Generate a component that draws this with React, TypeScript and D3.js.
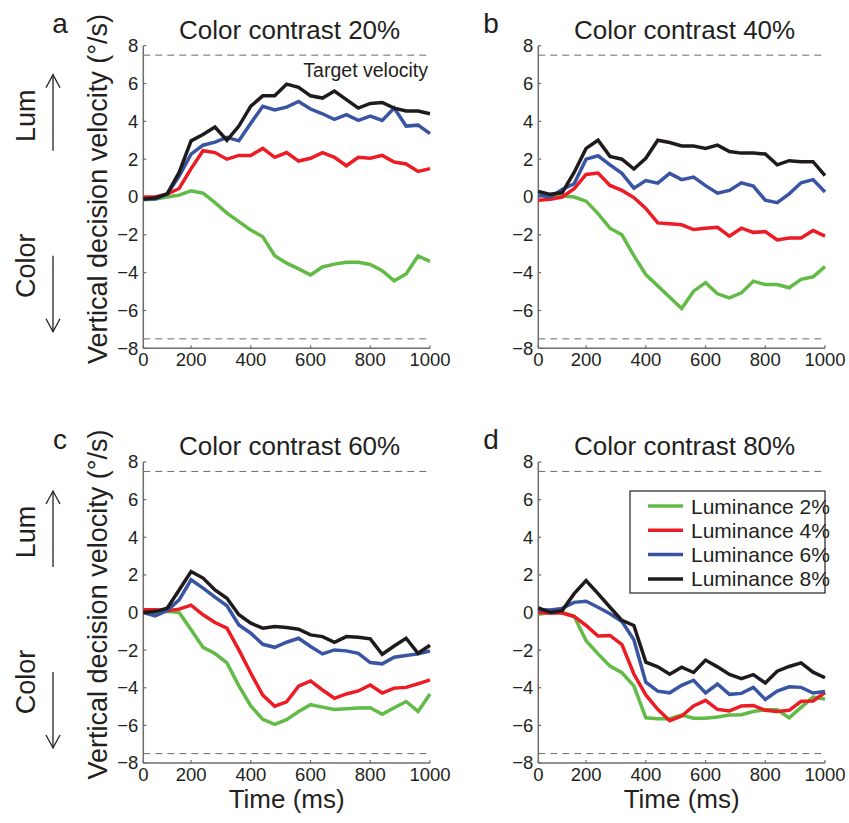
import React from "react";
import * as d3 from "d3";

// time bins (ms) — first bin is drawn at the "0" tick
const TIMES = [40, 80, 120, 160, 200, 240, 280, 320, 360, 400, 440, 480, 520, 560, 600, 640, 680, 720, 760, 800, 840, 880, 920, 960, 1000];
const X_TICKS = [40, 200, 400, 600, 800, 1000];
const X_TICK_LABELS = ["0", "200", "400", "600", "800", "1000"];
const Y_TICKS = [-8, -6, -4, -2, 0, 2, 4, 6, 8];
const TARGET = 7.5;

const SERIES = ["Luminance 2%", "Luminance 4%", "Luminance 6%", "Luminance 8%"];
const TITLES = ["Color contrast 20%", "Color contrast 40%", "Color contrast 60%", "Color contrast 80%"];
const LETTERS = ["a", "b", "c", "d"];

const A_L2 = [-0.15, -0.1, 0.0, 0.1, 0.33, 0.2, -0.3, -0.85, -1.3, -1.75, -2.1, -3.1, -3.5, -3.8, -4.12, -3.7, -3.55, -3.45, -3.45, -3.57, -3.9, -4.43, -4.07, -3.12, -3.4];
const A_L4 = [0.0, 0.0, 0.15, 0.45, 1.5, 2.45, 2.35, 2.0, 2.2, 2.2, 2.57, 2.1, 2.35, 1.9, 2.05, 2.35, 2.1, 1.65, 2.1, 2.05, 2.2, 1.85, 1.75, 1.35, 1.5];
const A_L6 = [-0.1, -0.1, 0.15, 1.1, 2.27, 2.74, 2.9, 3.15, 2.97, 3.9, 4.8, 4.6, 4.75, 5.05, 4.65, 4.4, 4.1, 4.35, 4.05, 4.28, 4.05, 4.7, 3.75, 3.8, 3.35];
const A_L8 = [-0.1, -0.05, 0.17, 1.3, 2.97, 3.3, 3.7, 3.0, 3.75, 4.8, 5.35, 5.35, 5.97, 5.8, 5.35, 5.23, 5.6, 5.15, 4.7, 4.95, 5.0, 4.7, 4.55, 4.55, 4.4];

const B_L2 = [0.1, 0.1, 0.05, 0.0, -0.22, -0.88, -1.65, -2.0, -3.1, -4.1, -4.7, -5.3, -5.9, -4.98, -4.53, -5.12, -5.33, -5.07, -4.45, -4.63, -4.63, -4.8, -4.35, -4.22, -3.68];
const B_L4 = [-0.17, -0.12, 0.0, 0.44, 1.19, 1.27, 0.61, 0.35, -0.03, -0.6, -1.37, -1.42, -1.47, -1.72, -1.65, -1.6, -2.07, -1.65, -1.87, -1.83, -2.27, -2.17, -2.17, -1.77, -2.07];
const B_L6 = [0.09, 0.0, 0.4, 0.7, 2.0, 2.18, 1.7, 1.25, 0.47, 0.87, 0.73, 1.25, 0.92, 1.05, 0.6, 0.2, 0.35, 0.75, 0.58, -0.17, -0.3, 0.17, 0.75, 0.92, 0.26];
const B_L8 = [0.3, 0.14, 0.23, 1.3, 2.57, 3.0, 2.15, 2.0, 1.48, 2.05, 3.0, 2.88, 2.7, 2.7, 2.57, 2.74, 2.4, 2.32, 2.32, 2.27, 1.7, 1.92, 1.87, 1.87, 1.13];

const C_L2 = [0.0, 0.0, 0.07, 0.0, -0.92, -1.85, -2.18, -2.68, -3.9, -4.97, -5.68, -5.95, -5.7, -5.26, -4.9, -5.03, -5.15, -5.12, -5.08, -5.06, -5.41, -5.06, -4.73, -5.26, -4.33];
const C_L4 = [0.14, 0.14, 0.1, 0.18, 0.39, -0.12, -0.53, -0.83, -1.99, -3.23, -4.39, -4.98, -4.75, -3.92, -3.64, -4.12, -4.56, -4.33, -4.17, -3.85, -4.28, -4.02, -3.98, -3.79, -3.58];
const C_L6 = [0.0, -0.18, 0.1, 0.67, 1.74, 1.3, 0.82, 0.36, -0.66, -1.1, -1.69, -1.85, -1.58, -1.37, -1.81, -2.2, -1.99, -2.04, -2.17, -2.66, -2.73, -2.38, -2.29, -2.2, -2.05];
const C_L8 = [0.0, 0.05, 0.23, 1.2, 2.18, 1.83, 1.2, 0.76, -0.12, -0.57, -0.83, -0.75, -0.8, -0.89, -1.19, -1.28, -1.58, -1.28, -1.31, -1.4, -2.22, -1.78, -1.37, -2.17, -1.74];

const D_L2 = [-0.1, 0.0, 0.0, -0.2, -1.5, -2.2, -2.85, -3.2, -3.9, -5.6, -5.65, -5.65, -5.45, -5.62, -5.62, -5.55, -5.45, -5.43, -5.26, -5.17, -5.17, -5.6, -5.04, -4.5, -4.6];
const D_L4 = [0.0, -0.03, -0.03, -0.21, -0.69, -1.25, -1.22, -1.7, -3.27, -4.38, -5.15, -5.75, -5.5, -4.97, -4.67, -5.15, -5.23, -4.97, -4.94, -5.2, -5.26, -5.2, -4.72, -4.7, -4.25];
const D_L6 = [0.15, 0.13, 0.22, 0.54, 0.6, 0.28, -0.07, -0.48, -1.45, -3.7, -4.18, -4.27, -3.87, -3.6, -4.28, -3.8, -4.35, -4.3, -3.98, -4.62, -4.18, -3.95, -3.98, -4.28, -4.2];
const D_L8 = [0.25, 0.0, 0.1, 1.0, 1.7, 1.0, 0.28, -0.42, -0.69, -2.64, -2.89, -3.28, -2.91, -3.19, -2.53, -2.89, -3.29, -3.52, -3.3, -3.75, -3.12, -2.87, -2.68, -3.17, -3.47];

const PANEL_DATA = [
  [A_L2, A_L4, A_L6, A_L8],
  [B_L2, B_L4, B_L6, B_L8],
  [C_L2, C_L4, C_L6, C_L8],
  [D_L2, D_L4, D_L6, D_L8],
];

const COLORS = ["#62bb47", "#ed1c24", "#3a54a4", "#1f1b1c"];
const FONT = "'Liberation Sans', Arial, Helvetica, sans-serif";
const TEXT = "#231f20";
const AXIS = "#6d6d6d";

// panel frames [left, right, top, bottom]
const FRAMES = [
  [143.3, 430, 45.7, 348.3],
  [538.3, 825, 45.7, 348.3],
  [143.3, 430, 462, 763],
  [538.3, 825, 462, 763],
];

function Arrow({ x, y1, y2 }) {
  // arrow from y1 (tail) to y2 (tip)
  const dir = y2 < y1 ? 1 : -1;
  return (
    <g stroke={TEXT} strokeWidth={1.3} fill="none">
      <line x1={x} x2={x} y1={y1} y2={y2} />
      <polyline points={`${x - 7},${y2 + dir * 13} ${x},${y2} ${x + 7},${y2 + dir * 13}`} />
    </g>
  );
}

function Panel({ idx }) {
  const [l, r, t, b] = FRAMES[idx];
  const x = d3.scaleLinear().domain([40, 1000]).range([l, r]);
  const y = d3.scaleLinear().domain([-8, 8]).range([b, t]);
  const line = d3
    .line<number>()
    .x((_, i) => x(TIMES[i]))
    .y((d) => y(d));
  const isLeft = idx % 2 === 0;
  const isBottom = idx >= 2;
  const cx = (l + r) / 2;
  const cy = (t + b) / 2;

  return (
    <g>
      <text x={cx + 3} y={t - 7} textAnchor="middle" fontSize={26} fill={TEXT}>
        {TITLES[idx]}
      </text>
      <text x={isLeft ? 60 : 491} y={t - 13} textAnchor="middle" fontSize={28} fill={TEXT}>
        {LETTERS[idx]}
      </text>

      {[TARGET, -TARGET].map((v) => (
        <line key={v} x1={l} x2={r} y1={y(v)} y2={y(v)} stroke="#6a6a6a" strokeWidth={1} strokeDasharray="7,5" />
      ))}

      {/* axes */}
      <line x1={l} x2={l} y1={t} y2={b} stroke={AXIS} strokeWidth={1.5} />
      <line x1={l} x2={r} y1={b} y2={b} stroke={AXIS} strokeWidth={1.5} />
      {Y_TICKS.map((v) => (
        <g key={v}>
          <line x1={l} x2={l + 3} y1={y(v)} y2={y(v)} stroke={AXIS} strokeWidth={1.2} />
          <text x={l - 5} y={y(v)} dy="0.35em" textAnchor="end" fontSize={18.5} fill={TEXT}>
            {v < 0 ? `\u2212${Math.abs(v)}` : v}
          </text>
        </g>
      ))}
      {X_TICKS.map((v, i) => (
        <g key={v}>
          <line x1={x(v)} x2={x(v)} y1={b} y2={b - 3} stroke={AXIS} strokeWidth={1.2} />
          <text x={x(v)} y={b + 18} textAnchor="middle" fontSize={18.5} fill={TEXT}>
            {X_TICK_LABELS[i]}
          </text>
        </g>
      ))}

      {PANEL_DATA[idx].map((vals, s) => (
        <path key={s} d={line(vals) ?? ""} fill="none" stroke={COLORS[s]} strokeWidth={3.5} strokeLinejoin="miter" />
      ))}

      {idx === 0 && (
        <text x={r - 2} y={y(TARGET) + 22} textAnchor="end" fontSize={19.5} fill={TEXT}>
          Target velocity
        </text>
      )}

      {isLeft && (
        <g>
          <text transform={`translate(107,${cy - 8}) rotate(-90)`} textAnchor="middle" fontSize={27} fill={TEXT}>
            Vertical decision velocity (°/s)
          </text>
          <text transform={`translate(35,${t + 70}) rotate(-90)`} textAnchor="middle" fontSize={27} fill={TEXT}>
            Lum
          </text>
          <Arrow x={53} y1={t + 105} y2={t + 29} />
          <text transform={`translate(35,${t + 220}) rotate(-90)`} textAnchor="middle" fontSize={27} fill={TEXT}>
            Color
          </text>
          <Arrow x={53} y1={t + 210} y2={t + 286} />
        </g>
      )}

      {isBottom && (
        <text x={cx} y={b + 45} textAnchor="middle" fontSize={26} fill={TEXT}>
          Time (ms)
        </text>
      )}

      {idx === 3 && (
        <g>
          <rect x={630} y={491} width={195} height={102} fill="white" stroke={TEXT} strokeWidth={1.2} />
          {SERIES.map((name, s) => (
            <g key={name}>
              <line x1={648} x2={683} y1={506 + s * 24.3} y2={506 + s * 24.3} stroke={COLORS[s]} strokeWidth={3.5} />
              <text x={691} y={506 + s * 24.3} dy="0.36em" fontSize={21} fill={TEXT}>
                {name}
              </text>
            </g>
          ))}
        </g>
      )}
    </g>
  );
}

export default function App() {
  return (
    <svg
      width={849}
      height={823}
      style={{ position: "absolute", left: 0, top: 0, background: "white" }}
      fontFamily={FONT}
    >
      {[0, 1, 2, 3].map((i) => (
        <Panel key={i} idx={i} />
      ))}
    </svg>
  );
}
